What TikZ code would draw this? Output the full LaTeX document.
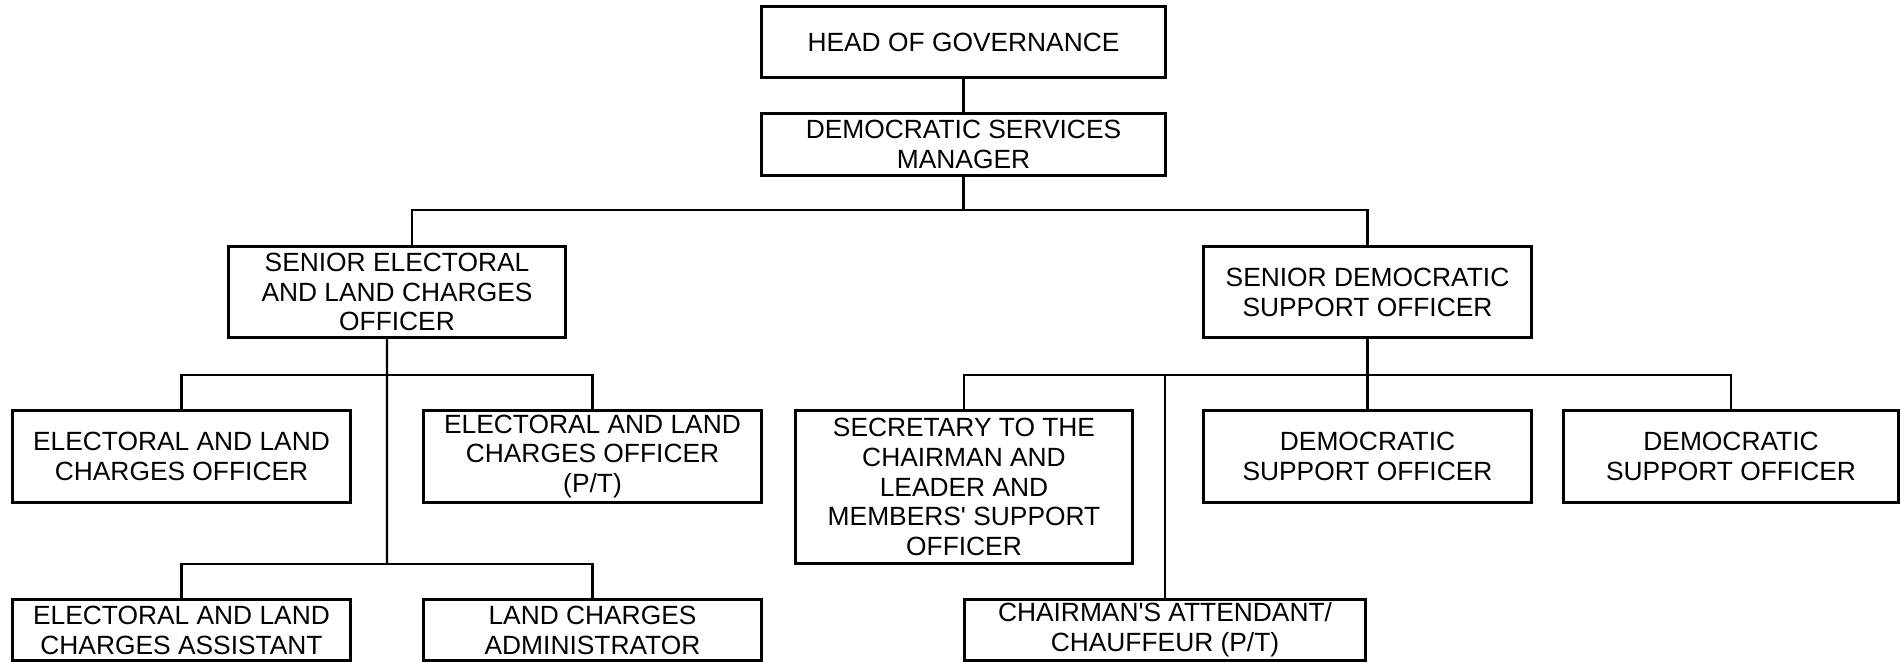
\documentclass[tikz,border=0pt]{standalone}
\usepackage{fontspec}
\setmainfont{Liberation Sans}

\begin{document}
\begin{tikzpicture}[x=0.02cm,y=-0.02cm,line width=1.2pt,
    post/.style={rectangle,draw,align=center,inner sep=0pt,
      font=\fontsize{15}{17}\selectfont}]
    \useasboundingbox (0,0) rectangle (1901,662);
    \node (p1) at (963.5,42) [post,minimum width=8.08cm,minimum height=1.42cm] {HEAD OF GOVERNANCE};
    \node (p2) at (963.5,144.5) [post,minimum width=8.08cm,minimum height=1.24cm] {DEMOCRATIC SERVICES\\MANAGER};
    \node (p3) at (397,292) [post,minimum width=6.74cm,minimum height=1.82cm] {SENIOR ELECTORAL\\AND LAND CHARGES\\OFFICER};
    \node (p4) at (1367.5,292) [post,minimum width=6.56cm,minimum height=1.82cm] {SENIOR DEMOCRATIC\\SUPPORT OFFICER};
    \node (p5) at (181.5,456.5) [post,minimum width=6.76cm,minimum height=1.84cm] {ELECTORAL AND LAND\\CHARGES OFFICER};
    \node (p6) at (592.5,456.5) [post,minimum width=6.76cm,minimum height=1.84cm] {ELECTORAL AND LAND\\CHARGES OFFICER\\(P/T)};
    \node (p7) at (181.5,630) [post,minimum width=6.76cm,minimum height=1.22cm] {ELECTORAL AND LAND\\CHARGES ASSISTANT};
    \node (p8) at (592.5,630) [post,minimum width=6.76cm,minimum height=1.22cm] {LAND CHARGES\\ADMINISTRATOR};
    \node (p9) at (964,487) [post,minimum width=6.74cm,minimum height=3.06cm] {SECRETARY TO THE\\CHAIRMAN AND\\LEADER AND\\MEMBERS\textquotesingle{} SUPPORT\\OFFICER};
    \node (p10) at (1165,630) [post,minimum width=8.02cm,minimum height=1.22cm] {CHAIRMAN\textquotesingle{}S ATTENDANT/\\CHAUFFEUR (P/T)};
    \node (p11) at (1367.5,456.5) [post,minimum width=6.56cm,minimum height=1.84cm] {DEMOCRATIC\\SUPPORT OFFICER};
    \node (p12) at (1731,456.5) [post,minimum width=6.70cm,minimum height=1.84cm] {DEMOCRATIC\\SUPPORT OFFICER};
    \coordinate (b1) at (963.5,210);
    \coordinate (b2) at (387,375);
    \coordinate (b3) at (387,564);
    \coordinate (b4) at (1367.5,375);
    \draw (p1) -- (p2);
    \draw (p2) -- (b1);
    \draw ([xshift=0.3cm]p3.north) |- (b1) -| (p4.north);
    \draw ([xshift=-0.2cm]p3.south) -- (b3);
    \draw (p5.north) |- (b2) -| (p6.north);
    \draw (p7.north) |- (b3) -| (p8.north);
    \draw (p4) -- (p11);
    \draw (p9.north) |- (b4) -| (p12.north);
    \draw (p10.north) -- (p10.north |- b4);
  \end{tikzpicture}
\end{document}
